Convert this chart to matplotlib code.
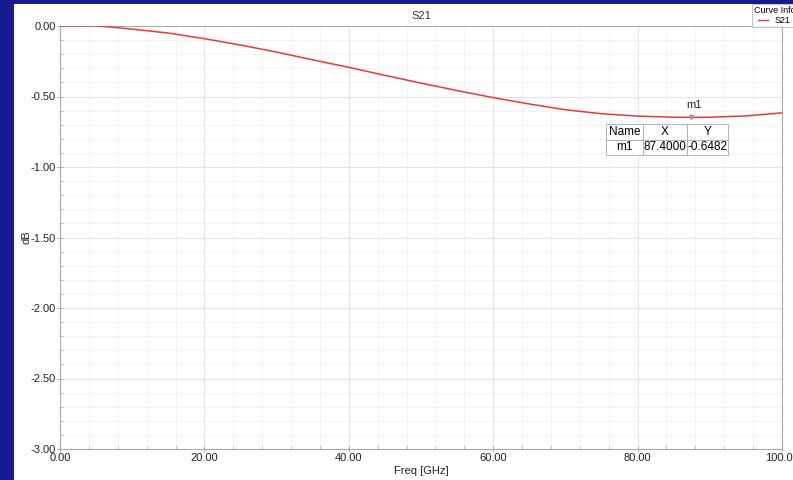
import numpy as np
import matplotlib.pyplot as plt
from matplotlib.patches import Rectangle
from matplotlib.ticker import MultipleLocator

plt.rcParams['font.family'] = ['Liberation Sans', 'DejaVu Sans']

# S21 curve
freq = [0, 5, 10, 15, 20, 25, 30, 35, 40, 45, 50, 55, 60, 65, 70, 75, 80, 85, 87.4, 90, 95, 100]
s21_db = [0.0, 0.002, -0.022, -0.05, -0.09, -0.135, -0.185, -0.24, -0.293, -0.35, -0.405,
          -0.458, -0.508, -0.553, -0.594, -0.622, -0.639, -0.647, -0.6482, -0.647, -0.638, -0.616]

marker_name = "m1"
marker_x = 87.4
marker_y = -0.6482

xticks = [0, 20, 40, 60, 80, 100]
yticks = [0.0, -0.5, -1.0, -1.5, -2.0, -2.5, -3.0]

fig = plt.figure(figsize=(7.93, 4.8), dpi=100)
fig.patch.set_facecolor('#151c8f')
fig.patches.append(Rectangle((14/793, 0), 1, 1 - 4/480, transform=fig.transFigure,
                             facecolor='white', edgecolor='none', zorder=-10))

ax = fig.add_axes([60/793, 31/480, 722/793, 423/480])
ax.set_zorder(2)
ax.set_facecolor('white')

ax.plot(freq, s21_db, color='#e8383d', lw=1.1, zorder=3)

ax.set_xlim(0, 100)
ax.set_ylim(-3, 0)
ax.set_xticks(xticks)
ax.set_xticklabels([f"{v:.2f}" for v in xticks])
ax.set_yticks(yticks)
ax.set_yticklabels([f"{v:.2f}" for v in yticks])
ax.xaxis.set_minor_locator(MultipleLocator(4))
ax.yaxis.set_minor_locator(MultipleLocator(0.1))
ax.grid(which='major', color='#e4e4e4', lw=0.8)
ax.grid(which='minor', color='#f1f1f1', lw=0.6)
ax.tick_params(which='major', direction='inout', length=4, width=0.6, color='#999999',
               labelsize=8, labelcolor='#222222', pad=1)
ax.tick_params(which='minor', direction='in', length=2, width=0.5, color='#999999')
for s in ax.spines.values():
    s.set_color('#aaaaaa')
    s.set_linewidth(0.8)

ax.set_title("S21", fontsize=8, color='#333333', pad=5)
ax.set_xlabel("Freq [GHz]", fontsize=8, color='#222222', labelpad=2)
ax.set_ylabel("dB", fontsize=8, color='#222222', labelpad=-1)

# marker
ax.plot([marker_x], [marker_y], marker='v', ms=3, color='#999999', zorder=4)
ax.annotate(marker_name, (marker_x, marker_y), xytext=(2, 5), textcoords='offset points',
            ha='center', va='bottom', fontsize=8, color='#222222')

tbl = ax.table(cellText=[["Name", "X", "Y"],
                         [marker_name, f"{marker_x:.4f}", f"{marker_y:.4f}"]],
               colWidths=[37, 44, 41], cellLoc='center',
               bbox=[0.756, 0.695, 0.169, 0.073])
tbl.auto_set_font_size(False)
tbl.set_fontsize(8.5)
tbl.set_zorder(5)
for c in tbl.get_celld().values():
    c.set_edgecolor('#aaaaaa')
    c.set_linewidth(0.6)
    c.set_facecolor('white')
    c.PAD = 0.02

leg = fig.legend([plt.Line2D([], [], color='#e8383d', lw=1)], ["S21"], title="Curve Info",
                 loc='upper left', bbox_to_anchor=(752/793, 1 - 4/480), fontsize=6.5,
                 title_fontsize=6.5, frameon=True, fancybox=False, handlelength=1,
                 handletextpad=0.8, borderpad=0.2, labelspacing=0.1, borderaxespad=0)
leg.get_frame().set_edgecolor('#aaaaaa')
leg.get_frame().set_linewidth(0.6)
leg.set_zorder(10)

fig.savefig("out.png", dpi=100, facecolor=fig.get_facecolor())
